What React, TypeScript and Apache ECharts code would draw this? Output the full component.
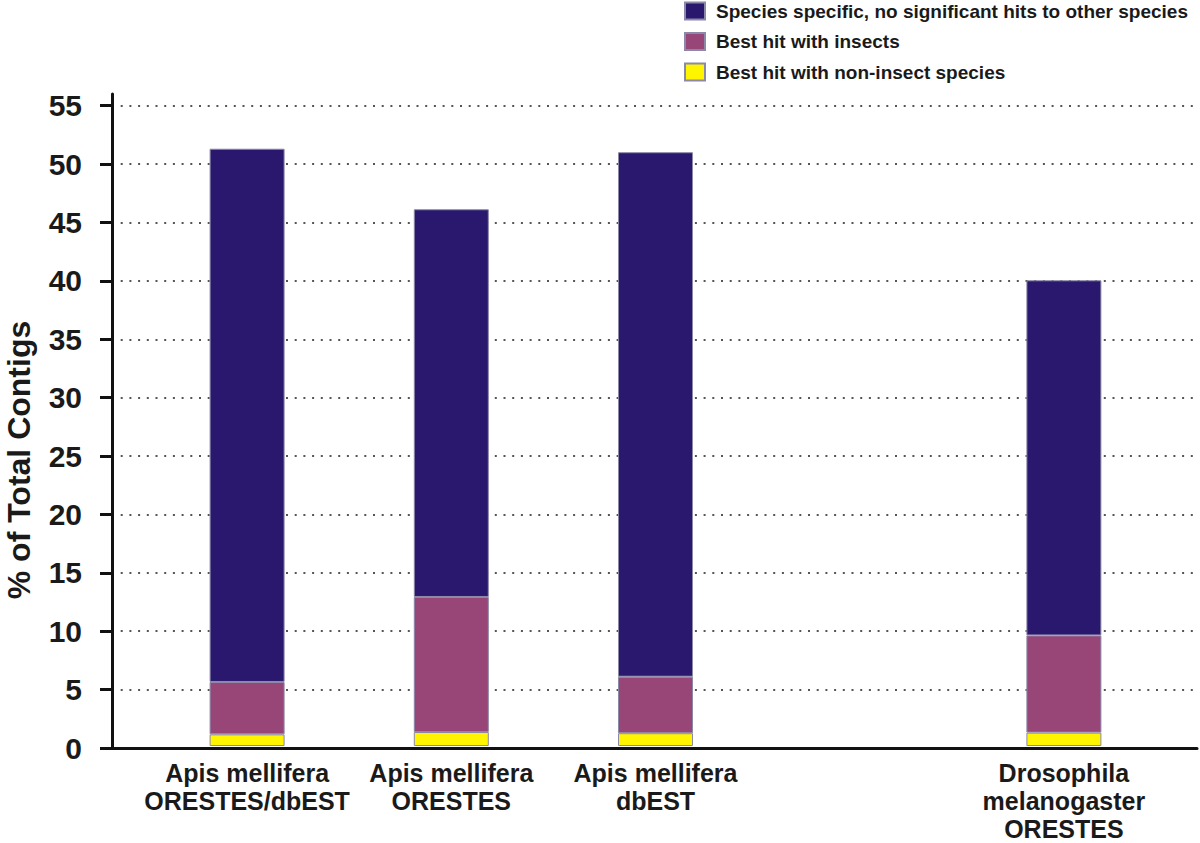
import React, { useEffect, useRef } from "react";
import * as echarts from "echarts";

const categories = [
  "Apis mellifera\nORESTES/dbEST",
  "Apis mellifera\nORESTES",
  "Apis mellifera\ndbEST",
  "",
  "Drosophila\nmelanogaster\nORESTES",
];
const nonInsect = [1.0, 1.2, 1.1, null, 1.15];
const insects = [4.5, 11.6, 4.85, null, 8.35];
const speciesSpecific = [45.8, 33.3, 45.05, null, 30.5];
const yTicks = [0, 5, 10, 15, 20, 25, 30, 35, 40, 45, 50, 55];
const seriesNames = [
  "Species specific, no significant hits to other species",
  "Best hit with insects",
  "Best hit with non-insect species",
];
const yName = "% of Total Contigs";

const FONT = "'Liberation Sans', Arial, Helvetica, sans-serif";
const BLUE = "#2a186e";
const PURPLE = "#984678";
const YELLOW = "#fff500";
const TEXT = "#1a1a1a";

export default function App() {
  const ref = useRef<HTMLDivElement>(null);
  useEffect(() => {
    if (!ref.current) return;
    const chart = echarts.init(ref.current, null, { renderer: "svg" });
    const barStyle = (c: string) => ({
      color: c,
      borderColor: "#8c88a8",
      borderWidth: 1,
    });
    chart.setOption({
      animation: false,
      backgroundColor: "#ffffff",
      textStyle: { fontFamily: FONT },
      legend: {
        orient: "vertical",
        left: 684,
        top: 1,
        padding: 0,
        itemWidth: 20,
        itemHeight: 17,
        itemGap: 10.5,
        icon: "rect",
        data: seriesNames,
        textStyle: {
          fontFamily: FONT,
          fontSize: 19,
          fontWeight: "bold",
          color: TEXT,
          lineHeight: 20,
          padding: [0, 0, 0, 6],
        },
      },
      grid: [
        { left: 112, right: 3, top: 94, bottom: 95 },
        { left: 145, width: 1021, top: 94, bottom: 95 },
      ],
      xAxis: [
        {
          type: "value",
          gridIndex: 0,
          min: 0,
          max: 1,
          axisLine: { show: true, lineStyle: { color: "#111", width: 3 } },
          axisTick: { show: false },
          axisLabel: { show: false },
          splitLine: { show: false },
        },
        {
          type: "category",
          gridIndex: 1,
          data: categories,
          axisLine: { show: false },
          axisTick: { show: false },
          axisLabel: {
            interval: 0,
            margin: 13,
            fontFamily: FONT,
            fontSize: 25,
            fontWeight: "bold",
            color: TEXT,
            lineHeight: 28,
            align: "center",
          },
        },
      ],
      yAxis: [
        {
          type: "value",
          gridIndex: 0,
          min: 0,
          max: 56,
          interval: 5,
          axisLine: { show: true, lineStyle: { color: "#111", width: 3 } },
          axisTick: {
            show: true,
            length: 12,
            lineStyle: { color: "#111", width: 3 },
            customValues: yTicks,
          },
          axisLabel: {
            margin: 30,
            fontFamily: FONT,
            fontSize: 30,
            fontWeight: "bold",
            color: TEXT,
            customValues: yTicks,
            formatter: (v: number) => (v % 5 === 0 ? String(v) : ""),
          },
          splitLine: {
            show: true,
            showMinLine: false,
            lineStyle: { color: "#555", width: 2, type: [2, 6.7] },
          },
        },
        {
          type: "value",
          gridIndex: 1,
          min: 0,
          max: 56,
          show: false,
          splitLine: { show: false },
        },
      ],
      graphic: [
        {
          type: "text",
          x: 19,
          y: 460,
          rotation: Math.PI / 2,
          style: {
            text: yName,
            fontFamily: FONT,
            fontSize: 32,
            fontWeight: "bold",
            fill: TEXT,
            textAlign: "center",
            textVerticalAlign: "middle",
          },
        },
      ],
      series: [
        {
          name: seriesNames[2],
          type: "bar",
          stack: "total",
          xAxisIndex: 1,
          yAxisIndex: 1,
          barWidth: 75,
          data: nonInsect,
          itemStyle: barStyle(YELLOW),
        },
        {
          name: seriesNames[1],
          type: "bar",
          stack: "total",
          xAxisIndex: 1,
          yAxisIndex: 1,
          barWidth: 75,
          data: insects,
          itemStyle: barStyle(PURPLE),
        },
        {
          name: seriesNames[0],
          type: "bar",
          stack: "total",
          xAxisIndex: 1,
          yAxisIndex: 1,
          barWidth: 75,
          data: speciesSpecific,
          itemStyle: barStyle(BLUE),
        },
      ],
    });
    return () => chart.dispose();
  }, []);
  return (
    <div
      ref={ref}
      style={{ position: "absolute", left: 0, top: 0, width: 1200, height: 843 }}
    />
  );
}
